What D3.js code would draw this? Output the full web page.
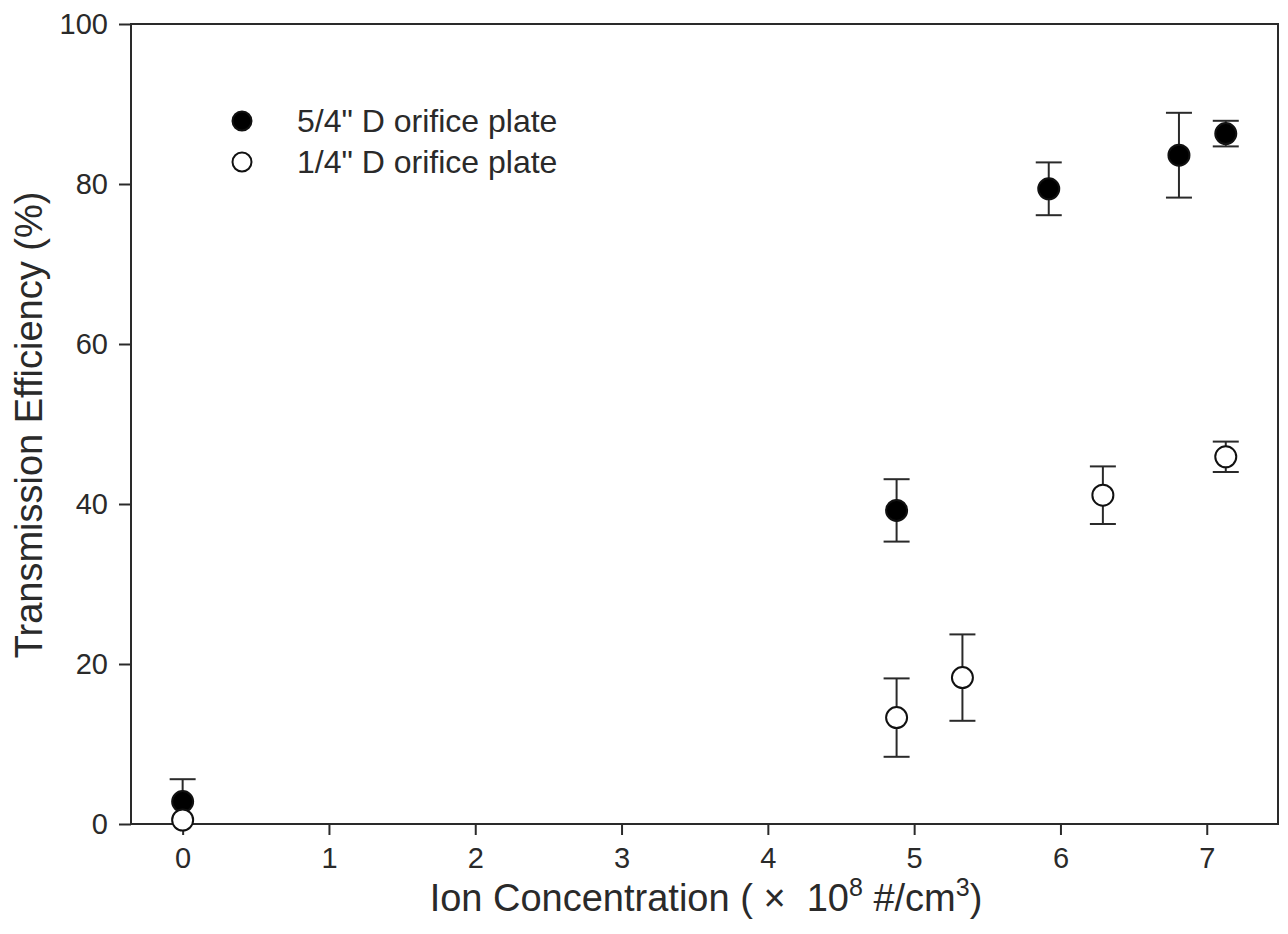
<!DOCTYPE html>
<html><head><meta charset="utf-8">
<script src="https://cdn.jsdelivr.net/npm/d3@7"></script>
<style>
body{margin:0;background:#fff;}
text{font-family:"Liberation Sans",Arial,sans-serif;fill:#2a2a2a;}
</style></head>
<body><svg id="c" width="1288" height="934"></svg>
<script>
// Data
const seriesNames = ['5/4" D orifice plate', '1/4" D orifice plate'];
const filledX = [0, 4.88, 5.92, 6.81, 7.13];
const filledY = [2.8, 39.2, 79.4, 83.6, 86.3];
const filledErr = [2.8, 3.9, 3.3, 5.3, 1.6];
const openX = [0, 4.88, 5.33, 6.29, 7.13];
const openY = [0.5, 13.3, 18.3, 41.1, 45.9];
const openErr = [0, 4.9, 5.4, 3.6, 1.9];
const xTicks = [0, 1, 2, 3, 4, 5, 6, 7];
const yTicks = [0, 20, 40, 60, 80, 100];

const svg = d3.select("#c");
const L = 131, R = 1278, T = 24, B = 824;
const x = d3.scaleLinear().domain([-0.353, 7.487]).range([L, R]);
const y = d3.scaleLinear().domain([0, 100]).range([B, T]);
const ink = "#2a2a2a";
const FONT = '"Liberation Sans",Arial,sans-serif';

// frame
svg.append("rect").attr("x", L).attr("y", T).attr("width", R - L).attr("height", B - T)
  .attr("fill", "none").attr("stroke", ink).attr("stroke-width", 2);

const xa = svg.append("g").attr("transform", `translate(0,${B})`)
  .call(d3.axisBottom(x).tickValues(xTicks).tickFormat(d3.format("d")).tickSize(11).tickPadding(12));
const ya = svg.append("g").attr("transform", `translate(${L},0)`)
  .call(d3.axisLeft(y).tickValues(yTicks).tickFormat(d3.format("d")).tickSize(12).tickPadding(11));
[xa, ya].forEach(a => {
  a.attr("font-size", null).attr("font-family", null);
  a.select(".domain").remove();
  a.selectAll("line").attr("stroke", ink).attr("stroke-width", 2);
  a.selectAll("text").style("font-size", "29px").attr("fill", ink).style("font-family", FONT);
});

// axis titles
svg.append("text").attr("transform", `translate(42,${425}) rotate(-90)`)
  .attr("text-anchor", "middle").style("font-size", "38px").text("Transmission Efficiency (%)");
const xt = svg.append("text").attr("x", 706).attr("y", 911).attr("text-anchor", "middle").style("font-size", "38px");
xt.append("tspan").text("Ion Concentration (\u00A0×\u00A0\u00A010");
xt.append("tspan").attr("dy", -15).style("font-size", "25px").text("8");
xt.append("tspan").attr("dy", 15).text("\u00A0#/cm");
xt.append("tspan").attr("dy", -15).style("font-size", "25px").text("3");
xt.append("tspan").attr("dy", 15).text(")");

function drawSeries(xs, ys, es, filled) {
  const g = svg.append("g");
  const cap = 13;
  xs.forEach((xv, i) => {
    if (es[i] > 0) {
      const x0 = x(xv), y1 = y(ys[i] + es[i]), y2 = y(ys[i] - es[i]);
      g.append("line").attr("x1", x0).attr("x2", x0).attr("y1", y1).attr("y2", y2).attr("stroke", ink).attr("stroke-width", 2);
      g.append("line").attr("x1", x0 - cap).attr("x2", x0 + cap).attr("y1", y1).attr("y2", y1).attr("stroke", ink).attr("stroke-width", 2);
      g.append("line").attr("x1", x0 - cap).attr("x2", x0 + cap).attr("y1", y2).attr("y2", y2).attr("stroke", ink).attr("stroke-width", 2);
    }
  });
  g.selectAll("circle").data(xs).join("circle")
    .attr("cx", (d) => x(d)).attr("cy", (d, i) => y(ys[i])).attr("r", 10.5)
    .attr("fill", filled ? "#000" : "#fff").attr("stroke", "#111").attr("stroke-width", 2);
}
drawSeries(filledX, filledY, filledErr, true);
drawSeries(openX, openY, openErr, false);

// legend
const lg = svg.append("g");
[[121, true], [162, false]].forEach(([ly, f], i) => {
  lg.append("circle").attr("cx", 242).attr("cy", ly).attr("r", 9.5)
    .attr("fill", f ? "#000" : "#fff").attr("stroke", "#111").attr("stroke-width", 2);
  lg.append("text").attr("x", 297).attr("y", ly + 11).style("font-size", "32px").text(seriesNames[i]);
});
</script></body></html>
